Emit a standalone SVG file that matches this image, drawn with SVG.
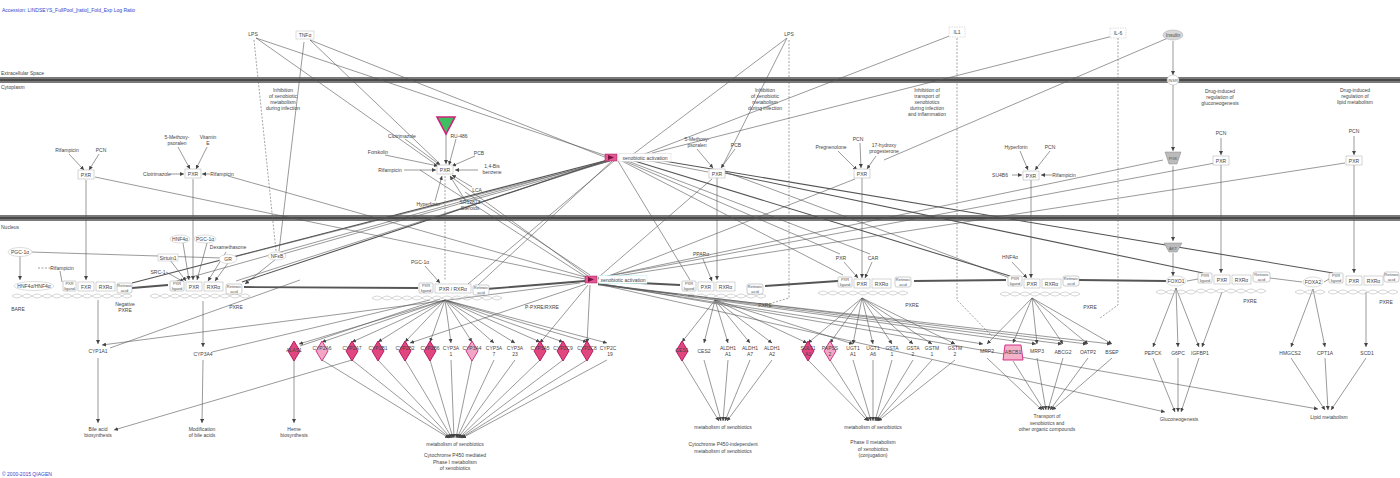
<svg xmlns="http://www.w3.org/2000/svg" width="1400" height="478" viewBox="0 0 1400 478">
<defs>
<marker id="a" viewBox="0 0 6 6" refX="6" refY="3" markerWidth="4" markerHeight="4" markerUnits="userSpaceOnUse" orient="auto"><path d="M0,0 L6,3 L0,6 Z" fill="#444"/></marker>
</defs>
<style>
.t{font-family:"Liberation Sans",Arial,sans-serif;font-size:5px;fill:#444;text-anchor:middle}
.s{font-family:"Liberation Sans",Arial,sans-serif;font-size:4px;fill:#555;text-anchor:middle}
.l{font-family:"Liberation Sans",Arial,sans-serif;font-size:5px;fill:#444}
.b{font-family:"Liberation Sans",Arial,sans-serif;font-size:5px;fill:#3344cc}
.e{stroke:#555;stroke-width:0.6;fill:none}
.ea{stroke:#555;stroke-width:0.6;fill:none;marker-end:url(#a)}
.ed{stroke:#666;stroke-width:0.6;fill:none;stroke-dasharray:2,1.5}
.th{stroke:#555;stroke-width:1.8;fill:none}
.tm{stroke:#555;stroke-width:1.1;fill:none}
.bx{fill:#fff;stroke:#aaa;stroke-width:0.5}
.lg{fill:#fff;stroke:#999;stroke-width:0.5}
.ov{fill:#fff;stroke:#bbb;stroke-width:0.5}
.dna{fill:none;stroke:#bbb;stroke-width:0.6}
.pk{fill:#e2467f;stroke:#b01060;stroke-width:0.9}
.pl{fill:#f2a6c6;stroke:#c8287a;stroke-width:0.9}
</style>
<rect width="1400" height="478" fill="#fff"/>
<text class="b" x="2" y="12">Accession: LINDSEYS_FullPool_[ratio]_Fold_Exp Log Ratio</text>
<text class="b" x="2" y="476">© 2000-2015 QIAGEN</text>
<g id="membranes">
<rect x="0" y="77" width="1400" height="6" fill="#7a7a7a"/>
<rect x="0" y="79" width="1400" height="2" fill="#4a4a4a"/>
<rect x="0" y="215" width="1400" height="6" fill="#7a7a7a"/>
<rect x="0" y="217" width="1400" height="2" fill="#4a4a4a"/>
<text class="l" x="1" y="75">Extracellular Space</text>
<text class="l" x="1" y="89">Cytoplasm</text>
<text class="l" x="1" y="229">Nucleus</text>
</g>
<g id="connectors">
<path class="e" d="M256,38 L607,156"/>
<path class="e" d="M310,40 L607,158"/>
<path class="e" d="M256,38 L438,166"/>
<path class="e" d="M310,40 L440,164"/>
<path class="ed" d="M254,40 L276,251"/>
<path class="e" d="M304,42 L279,251"/>
<path class="e" d="M787,38 L632,155"/>
<path class="e" d="M787,38 L722,167"/>
<path class="ed" d="M789,40 L789,298 L772,303"/>
<path class="e" d="M952,35 L642,155"/>
<path class="ed" d="M957,38 L957,300 L992,336"/>
<path class="e" d="M1113,36 L652,153"/>
<path class="ed" d="M1118,38 L1118,305 L1100,318"/>
<path class="e" d="M1168,38 L884,160"/>
<path class="ea" d="M1173,41 L1173,75"/>
<path class="ea" d="M1173,85 L1173,151"/>
<path class="ea" d="M1173,166 L1173,241"/>
<path class="ea" d="M1173,253 L1173,276"/>
<path class="ea" d="M69,154 L84,170"/><path class="ea" d="M99,154 L89,170"/>
<path class="ea" d="M178,147 L190,169"/><path class="ea" d="M207,147 L196,169"/>
<path class="ea" d="M170,174 L184,174"/><path class="ea" d="M210,174 L202,174"/>
<path class="ea" d="M446,134 L446,164"/><path class="ea" d="M405,139 L440,165"/><path class="ea" d="M456,139 L449,165"/>
<path class="ea" d="M385,155 L438,166"/><path class="ea" d="M475,156 L452,166"/>
<path class="ea" d="M404,170 L436,170"/><path class="ea" d="M478,170 L455,170"/>
<path class="ea" d="M472,187 L452,175"/>
<path class="ea" d="M435,201 L442,176"/><path class="ea" d="M465,200 L450,176"/>
<path class="ea" d="M697,149 L713,168"/><path class="ea" d="M735,149 L721,168"/>
<path class="ea" d="M860,143 L861,168"/><path class="ea" d="M838,151 L857,170"/><path class="ea" d="M876,156 L867,169"/>
<path class="ea" d="M1020,151 L1028,170"/><path class="ea" d="M1050,151 L1035,170"/>
<path class="ea" d="M1012,175 L1022,175"/><path class="ea" d="M1052,175 L1041,175"/>
<path class="ea" d="M1221,138 L1221,155"/>
<path class="ea" d="M1354,136 L1354,155"/>
<path class="ea" d="M86,180 L86,280"/>
<path class="ea" d="M193,179 L193,280"/>
<path class="ed" d="M445,176 L445,281"/>
<path class="ea" d="M717,178 L717,280"/>
<path class="ea" d="M862,178 L862,278"/>
<path class="ea" d="M1031,180 L1031,278"/>
<path class="ea" d="M1221,165 L1221,273"/>
<path class="ea" d="M1354,165 L1354,273"/>
<path class="e" d="M95,177 L585,279"/>
<path class="e" d="M228,176 L585,277"/>
<path class="e" d="M450,176 L588,276"/>
<path class="e" d="M465,192 L590,275"/>
<path class="e" d="M420,170 L586,277"/>
<path class="e" d="M712,179 L600,276"/>
<path class="e" d="M855,179 L606,277"/>
<path class="tm" d="M608,160 L132,283"/>
<path class="tm" d="M608,160 L242,282"/>
<path class="e" d="M608,161 L236,281"/>
<path class="e" d="M610,161 L283,254"/>
<path class="e" d="M610,161 L234,257"/>
<path class="e" d="M609,160 L170,283"/>
<path class="e" d="M612,161 L478,285"/>
<path class="e" d="M614,161 L468,284"/>
<path class="e" d="M618,161 L690,280"/>
<path class="e" d="M622,161 L843,275"/>
<path class="e" d="M622,160 L840,254"/>
<path class="e" d="M625,160 L870,254"/>
<path class="tm" d="M628,159 L1010,276"/>
<path class="tm" d="M720,172 L1203,273"/>
<path class="tm" d="M640,157 L1333,273"/>
<path class="e" d="M723,171 L1010,278"/>
<path class="e" d="M630,157 L708,172"/>
<path class="e" d="M598,278 L1215,163"/>
<path class="e" d="M598,279 L1345,163"/>
<path class="e" d="M598,278 L1163,160"/>
<path class="ea" d="M598,283 L1318,409"/>
<path class="ea" d="M598,284 L1165,412"/>
<path class="ea" d="M598,284 L983,344"/>
<path class="ea" d="M598,284 L1036,344"/>
<path class="ea" d="M598,284 L1062,344"/>
<path class="ea" d="M598,284 L1087,344"/>
<path class="ea" d="M598,285 L1111,344"/>
<path class="ea" d="M586,284 L410,343"/>
<path class="ea" d="M588,285 L540,343"/>
<path class="ea" d="M590,285 L587,343"/>
<path class="ea" d="M580,283 L102,345"/>
<path class="th" d="M132,288 L168,285"/>
<path class="th" d="M244,287 L418,288"/>
<path class="th" d="M486,289 L585,281"/>
<path class="th" d="M600,281 L680,285"/>
<path class="th" d="M765,286 L838,281"/>
<path class="th" d="M914,281 L1006,280"/>
<path class="th" d="M1078,280 L1166,281"/>
<path class="e" d="M1187,281 L1198,279"/>
<path class="e" d="M1270,278 L1302,282"/>
<path class="e" d="M1324,282 L1329,279"/>
<path class="e" d="M30,252 L222,258"/>
<path class="ea" d="M20,256 L20,280"/>
<path class="ed" d="M38,268 L52,268"/>
<path class="e" d="M60,271 L62,282"/>
<path class="ea" d="M183,243 L189,280"/>
<path class="ea" d="M207,243 L197,280"/>
<path class="ea" d="M226,252 L208,281"/>
<path class="ea" d="M170,260 L186,281"/>
<path class="ea" d="M166,272 L184,282"/>
<path class="ea" d="M228,263 L215,281"/>
<path class="ea" d="M276,259 L245,284"/>
<path class="ea" d="M425,266 L440,283"/>
<path class="ea" d="M703,259 L712,281"/>
<path class="ea" d="M844,262 L858,278"/>
<path class="ea" d="M872,262 L865,278"/>
<path class="ea" d="M1012,262 L1027,278"/>
<path class="ea" d="M98,300 L98,344"/>
<path class="ea" d="M98,358 L98,423"/>
<path class="ea" d="M203,301 L203,347"/>
<path class="ea" d="M203,360 L202,423"/>
<path class="ea" d="M294,360 L294,423"/>
<path class="e" d="M110,348 L300,280"/>
<path class="e" d="M212,352 L430,300"/>
<path class="e" d="M300,346 L440,299"/>
<path class="ea" d="M352,360 L114,430"/>
<path class="ea" d="M445,300 L322,342"/><path class="ea" d="M445,300 L352,342"/><path class="ea" d="M445,300 L378,342"/>
<path class="ea" d="M445,300 L405,342"/><path class="ea" d="M445,300 L430,342"/><path class="ea" d="M445,300 L451,343"/>
<path class="ea" d="M445,300 L472,342"/><path class="ea" d="M445,300 L494,343"/><path class="ea" d="M445,300 L515,343"/>
<path class="ea" d="M445,300 L540,342"/><path class="ea" d="M445,300 L563,342"/><path class="ea" d="M445,300 L587,342"/>
<path class="ea" d="M445,300 L607,343"/><path class="ea" d="M445,300 L299,344"/>
<path class="ea" d="M322,360 L449,438"/><path class="ea" d="M352,360 L450,438"/><path class="ea" d="M378,360 L451,438"/>
<path class="ea" d="M405,360 L452,438"/><path class="ea" d="M430,360 L453,438"/><path class="ea" d="M451,360 L454,438"/>
<path class="ea" d="M472,360 L456,438"/><path class="ea" d="M494,360 L457,438"/><path class="ea" d="M515,360 L458,438"/>
<path class="ea" d="M540,360 L459,438"/><path class="ea" d="M563,360 L460,438"/><path class="ea" d="M587,360 L461,438"/>
<path class="ea" d="M607,360 L462,438"/>
<path class="ea" d="M715,300 L682,342"/><path class="ea" d="M715,300 L704,343"/><path class="ea" d="M715,300 L728,343"/>
<path class="ea" d="M715,300 L750,343"/><path class="ea" d="M715,300 L772,343"/>
<path class="ea" d="M715,300 L807,343"/><path class="ea" d="M715,300 L853,344"/>
<path class="ea" d="M682,360 L719,421"/><path class="ea" d="M704,360 L721,421"/><path class="ea" d="M728,360 L723,421"/>
<path class="ea" d="M750,360 L725,421"/><path class="ea" d="M772,360 L727,421"/>
<path class="ea" d="M862,298 L808,343"/><path class="ea" d="M862,298 L830,343"/><path class="ea" d="M862,298 L853,344"/>
<path class="ea" d="M862,298 L873,344"/><path class="ea" d="M862,298 L892,344"/><path class="ea" d="M862,298 L913,344"/>
<path class="ea" d="M862,298 L932,344"/><path class="ea" d="M862,298 L955,344"/>
<path class="ea" d="M808,360 L868,421"/><path class="ea" d="M830,360 L869,421"/><path class="ea" d="M853,360 L871,421"/>
<path class="ea" d="M873,360 L873,421"/><path class="ea" d="M892,360 L875,421"/><path class="ea" d="M913,360 L876,421"/>
<path class="ea" d="M932,360 L877,421"/><path class="ea" d="M955,360 L878,421"/>
<path class="ea" d="M1032,298 L987,344"/><path class="ea" d="M1032,298 L1013,343"/><path class="ea" d="M1032,298 L1037,344"/>
<path class="ea" d="M1032,298 L1063,344"/><path class="ea" d="M1032,298 L1088,344"/><path class="ea" d="M1032,298 L1112,344"/>
<path class="ea" d="M987,358 L1042,410"/><path class="ea" d="M1013,361 L1044,410"/><path class="ea" d="M1037,358 L1046,410"/>
<path class="ea" d="M1063,358 L1048,410"/><path class="ea" d="M1088,358 L1050,410"/><path class="ea" d="M1112,358 L1052,410"/>
<path class="ea" d="M1176,288 L1153,347"/><path class="ea" d="M1176,288 L1178,347"/><path class="ea" d="M1176,288 L1199,347"/>
<path class="ea" d="M1222,292 L1202,347"/>
<path class="ea" d="M1153,358 L1175,412"/><path class="ea" d="M1178,358 L1178,412"/><path class="ea" d="M1199,358 L1181,412"/>
<path class="ea" d="M1313,289 L1291,347"/><path class="ea" d="M1313,289 L1325,347"/>
<path class="ea" d="M1366,292 L1366,347"/>
<path class="ea" d="M1291,358 L1325,410"/><path class="ea" d="M1325,358 L1328,410"/><path class="ea" d="M1366,358 L1331,410"/>
</g>
<g id="LPS1"><text class="t" x="253" y="36">LPS</text></g>
<g id="TNF"><rect class="ov" x="296" y="31" width="18" height="8"/><text class="t" x="305" y="37">TNFα</text></g>
<g id="LPS2"><text class="t" x="789" y="36">LPS</text></g>
<g id="IL1"><rect x="949" y="27" width="16" height="10" fill="#fff" stroke="#bbb" stroke-width="0.5" stroke-dasharray="1.5,1"/><text class="t" x="957" y="34">IL1</text></g>
<g id="IL6"><rect x="1110" y="28" width="16" height="10" fill="#fff" stroke="#bbb" stroke-width="0.5" stroke-dasharray="1.5,1"/><text class="t" x="1118" y="35">IL-6</text></g>
<g id="INS"><ellipse cx="1173" cy="35" rx="10" ry="5" fill="#d8d8d8" stroke="#aaa" stroke-width="0.5"/><text class="t" x="1173" y="37">Insulin</text></g>
<g id="INSR"><ellipse cx="1173" cy="80" rx="6" ry="5" fill="#fff" stroke="#aaa" stroke-width="0.5"/><text class="s" x="1173" y="81.5">INSR</text></g>
<g id="F1"><text class="t" x="283" y="92">Inhibition</text><text class="t" x="283" y="98">of xenobiotic</text><text class="t" x="283" y="104">metabolism</text><text class="t" x="283" y="110">during infection</text></g>
<g id="F2"><text class="t" x="765" y="92">Inhibition</text><text class="t" x="765" y="98">of xenobiotic</text><text class="t" x="765" y="104">metabolism</text><text class="t" x="765" y="110">during infection</text></g>
<g id="F3"><text class="t" x="927" y="92">Inhibition of</text><text class="t" x="927" y="98">transport of</text><text class="t" x="927" y="104">xenobiotics</text><text class="t" x="927" y="110">during infection</text><text class="t" x="927" y="116">and inflammation</text></g>
<g id="F4"><text class="t" x="1220" y="93">Drug-induced</text><text class="t" x="1220" y="99">regulation of</text><text class="t" x="1220" y="105">gluconeogenesis</text></g>
<g id="F5"><text class="t" x="1355" y="92">Drug-induced</text><text class="t" x="1355" y="98">regulation of</text><text class="t" x="1355" y="104">lipid metabolism</text></g>
<g id="P1"><text class="t" x="67" y="152">Rifampicin</text><text class="t" x="101" y="152">PCN</text><rect class="bx" x="78" y="170" width="16" height="9"/><text class="t" x="86" y="176.5">PXR</text></g>
<g id="P2"><text class="t" x="177" y="139">5-Methoxy-</text><text class="t" x="177" y="145">psoralen</text><text class="t" x="208" y="139">Vitamin</text><text class="t" x="208" y="145">E</text><text class="t" x="157" y="176">Clotrimazole</text><rect class="bx" x="185" y="169" width="16" height="9"/><text class="t" x="193" y="175.5">PXR</text><text class="t" x="222" y="176">Rifampicin</text></g>
<g id="P3"><polygon points="437,117 455,117 446,134" fill="#3fc060" stroke="#d0207e" stroke-width="1.6"/><text class="t" x="402" y="138">Clotrimazole</text><text class="t" x="459" y="138">RU-486</text><text class="t" x="378" y="154">Forskolin</text><text class="t" x="479" y="155">PCB</text><text class="t" x="390" y="172">Rifampicin</text><rect class="bx" x="437" y="165" width="16" height="9"/><text class="t" x="445" y="171.5">PXR</text><text class="t" x="492" y="168">1,4-Bis</text><text class="t" x="492" y="174">benzene</text><text class="t" x="477" y="192">LCA</text><text class="t" x="428" y="206">Hyperforin</text><text class="t" x="470" y="204">SR12813</text><text class="t" x="470" y="210">Steroids</text></g>
<g id="P4"><text class="t" x="697" y="141">5-Methoxy-</text><text class="t" x="697" y="147">psoralen</text><text class="t" x="736" y="147">PCB</text><rect class="bx" x="709" y="169" width="16" height="9"/><text class="t" x="717" y="175.5">PXR</text></g>
<g id="P5"><text class="t" x="858" y="141">PCN</text><text class="t" x="831" y="149">Pregnenolone</text><text class="t" x="884" y="147">17-hydroxy</text><text class="t" x="884" y="153">progesterone</text><rect class="bx" x="854" y="169" width="16" height="9"/><text class="t" x="862" y="175.5">PXR</text></g>
<g id="P6"><text class="t" x="1016" y="149">Hyperforin</text><text class="t" x="1050" y="149">PCN</text><text class="t" x="1000" y="177">SU4B6</text><rect class="bx" x="1023" y="171" width="16" height="9"/><text class="t" x="1031" y="177.5">PXR</text><text class="t" x="1064" y="177">Rifampicin</text></g>
<g id="PI3K"><polygon points="1165,152 1181,152 1177,164 1169,164" fill="#bbb" stroke="#888" stroke-width="0.5"/><text class="s" x="1173" y="159.5">PI3K</text></g>
<g id="P7"><text class="t" x="1221" y="135">PCN</text><rect class="bx" x="1213" y="156" width="16" height="9"/><text class="t" x="1221" y="162.5">PXR</text></g>
<g id="P8"><text class="t" x="1354" y="133">PCN</text><rect class="bx" x="1346" y="156" width="16" height="9"/><text class="t" x="1354" y="162.5">PXR</text></g>
<g id="CA"><rect x="605" y="154" width="12" height="7" fill="#e0588f" stroke="#b01060" stroke-width="0.5"/><polygon points="608,155 614,157.5 608,160" fill="#7a1040"/><rect x="619" y="153.5" width="52" height="8" fill="#fff" stroke="#ccc" stroke-width="0.4"/><text class="t" x="645" y="159.5">xenobiotic activation</text></g>
<g id="CB"><rect x="585" y="276" width="12" height="7" fill="#e0588f" stroke="#b01060" stroke-width="0.5"/><polygon points="588,277 594,279.5 588,282" fill="#7a1040"/><rect x="599" y="275.5" width="48" height="8" fill="#fff" stroke="#aee" stroke-width="0.4"/><text class="t" x="623" y="281.5">xenobiotic activation</text></g>
<g id="N1">
<ellipse class="ov" cx="20" cy="252" rx="12" ry="4.5"/><text class="t" x="20" y="254">PGC-1α</text>
<text class="t" x="62" y="270">Rifampicin</text>
<path class="dna" d="M12,296 q5,-4 10,0 t10,0 t10,0 t10,0 t10,0 t10,0 t10,0 t10,0 t10,0 t10,0 t10,0 t10,0"/>
<path class="dna" d="M12,296 q5,4 10,0 t10,0 t10,0 t10,0 t10,0 t10,0 t10,0 t10,0 t10,0 t10,0 t10,0 t10,0"/>
<ellipse class="ov" cx="34" cy="286" rx="20" ry="4.5"/><text class="t" x="34" y="288">HNF4α/HNF4α</text>
<rect class="lg" x="63" y="281" width="13" height="10" rx="1"/><text class="s" x="69.5" y="285">PXR</text><text class="s" x="69.5" y="289.5">ligand</text>
<rect class="bx" x="78" y="282" width="16" height="9"/><text class="t" x="86" y="288.5">FXR</text>
<rect class="bx" x="96" y="282" width="19" height="9"/><text class="t" x="105.5" y="288.5">RXRα</text>
<rect class="lg" x="117" y="283" width="15" height="10" rx="2"/><text class="s" x="124.5" y="287">Retinoic</text><text class="s" x="124.5" y="291.5">acid</text>
<text class="t" x="18" y="311">BARE</text>
<text class="t" x="125" y="306">Negative</text><text class="t" x="125" y="312">PXRE</text>
</g>
<g id="N2">
<ellipse class="ov" cx="180" cy="239" rx="10" ry="4"/><text class="t" x="180" y="241">HNF4α</text>
<ellipse class="ov" cx="205" cy="239" rx="11" ry="4"/><text class="t" x="205" y="241">PGC-1α</text>
<text class="t" x="228" y="249">Dexamethasone</text>
<rect class="ov" x="158" y="254" width="20" height="7"/><text class="t" x="168" y="259.5">Sirtuin1</text>
<text class="t" x="158" y="274">SRC-1</text>
<ellipse class="ov" cx="228" cy="259" rx="9" ry="4.5"/><text class="t" x="228" y="261">GR</text>
<ellipse class="ov" cx="277" cy="256" rx="9" ry="4"/><text class="t" x="277" y="258">NFκB</text>
<path class="dna" d="M150,296 q5,-4 10,0 t10,0 t10,0 t10,0 t10,0 t10,0 t10,0 t10,0 t10,0 t10,0"/>
<path class="dna" d="M150,296 q5,4 10,0 t10,0 t10,0 t10,0 t10,0 t10,0 t10,0 t10,0 t10,0 t10,0"/>
<rect class="lg" x="170" y="281" width="14" height="10" rx="1"/><text class="s" x="177" y="285">PXR</text><text class="s" x="177" y="289.5">ligand</text>
<rect class="bx" x="186" y="282" width="16" height="9"/><text class="t" x="194" y="288.5">PXR</text>
<rect class="bx" x="204" y="282" width="19" height="9"/><text class="t" x="213.5" y="288.5">RXRα</text>
<rect class="lg" x="226" y="284" width="16" height="10" rx="2"/><text class="s" x="234" y="288">Retinoic</text><text class="s" x="234" y="292.5">acid</text>
<text class="t" x="236" y="309">PXRE</text>
</g>
<g id="N3">
<text class="t" x="420" y="264">PGC-1α</text>
<path class="dna" d="M372,298 q5,-4 10,0 t10,0 t10,0 t10,0 t10,0 t10,0 t10,0 t10,0 t10,0 t10,0 t10,0 t10,0 t10,0"/>
<path class="dna" d="M372,298 q5,4 10,0 t10,0 t10,0 t10,0 t10,0 t10,0 t10,0 t10,0 t10,0 t10,0 t10,0 t10,0 t10,0"/>
<rect class="lg" x="419" y="283" width="14" height="10" rx="1"/><text class="s" x="426" y="287">PXR</text><text class="s" x="426" y="291.5">ligand</text>
<rect class="bx" x="435" y="284" width="36" height="9"/><text class="t" x="453" y="290.5">PXR / RXRα</text>
<rect class="lg" x="473" y="285" width="16" height="10" rx="2"/><text class="s" x="481" y="289">Retinoic</text><text class="s" x="481" y="293.5">acid</text>
<text class="t" x="542" y="309">P-PXRE/RXRE</text>
</g>
<g id="N4">
<text class="t" x="701" y="256">PPARα</text>
<path class="dna" d="M676,296 q5,-4 10,0 t10,0 t10,0 t10,0 t10,0 t10,0 t10,0 t10,0 t10,0"/>
<path class="dna" d="M676,296 q5,4 10,0 t10,0 t10,0 t10,0 t10,0 t10,0 t10,0 t10,0 t10,0"/>
<rect class="lg" x="682" y="281" width="14" height="10" rx="1"/><text class="s" x="689" y="285">PXR</text><text class="s" x="689" y="289.5">ligand</text>
<rect class="bx" x="698" y="282" width="16" height="9"/><text class="t" x="706" y="288.5">PXR</text>
<rect class="bx" x="716" y="282" width="19" height="9"/><text class="t" x="725.5" y="288.5">RXRα</text>
<rect class="lg" x="747" y="284" width="16" height="10" rx="2"/><text class="s" x="755" y="288">Retinoic</text><text class="s" x="755" y="292.5">acid</text>
<text class="t" x="765" y="307">PXRE</text>
</g>
<g id="N5">
<text class="t" x="841" y="260">PXR</text><text class="t" x="873" y="260">CAR</text>
<path class="dna" d="M818,293 q5,-4 10,0 t10,0 t10,0 t10,0 t10,0 t10,0 t10,0 t10,0 t10,0"/>
<path class="dna" d="M818,293 q5,4 10,0 t10,0 t10,0 t10,0 t10,0 t10,0 t10,0 t10,0 t10,0"/>
<rect class="lg" x="838" y="277" width="14" height="10" rx="1"/><text class="s" x="845" y="281">PXR</text><text class="s" x="845" y="285.5">ligand</text>
<rect class="bx" x="854" y="279" width="16" height="9"/><text class="t" x="862" y="285.5">PXR</text>
<rect class="bx" x="872" y="279" width="19" height="9"/><text class="t" x="881.5" y="285.5">RXRα</text>
<rect class="lg" x="895" y="277" width="16" height="10" rx="2"/><text class="s" x="903" y="281">Retinoic</text><text class="s" x="903" y="285.5">acid</text>
<text class="t" x="912" y="307">PXRE</text>
</g>
<g id="N6">
<text class="t" x="1010" y="259">HNF4α</text>
<path class="dna" d="M1000,294 q5,-4 10,0 t10,0 t10,0 t10,0 t10,0 t10,0 t10,0 t10,0"/>
<path class="dna" d="M1000,294 q5,4 10,0 t10,0 t10,0 t10,0 t10,0 t10,0 t10,0 t10,0"/>
<rect class="lg" x="1008" y="276" width="14" height="10" rx="1"/><text class="s" x="1015" y="280">PXR</text><text class="s" x="1015" y="284.5">ligand</text>
<rect class="bx" x="1024" y="279" width="16" height="9"/><text class="t" x="1032" y="285.5">PXR</text>
<rect class="bx" x="1042" y="279" width="19" height="9"/><text class="t" x="1051.5" y="285.5">RXRα</text>
<rect class="lg" x="1063" y="276" width="16" height="10" rx="2"/><text class="s" x="1071" y="280">Retinoic</text><text class="s" x="1071" y="284.5">acid</text>
<text class="t" x="1090" y="309">PXRE</text>
</g>
<g id="AKT"><polygon points="1164,243 1182,243 1177,252 1169,252" fill="#bbb" stroke="#888" stroke-width="0.5"/><text class="s" x="1173" y="249.5">AKT</text></g>
<g id="FOXO1"><path class="dna" d="M1156,292 q5,-4 10,0 t10,0 t10,0 t10,0"/><path class="dna" d="M1156,292 q5,4 10,0 t10,0 t10,0 t10,0"/><ellipse class="ov" cx="1176" cy="281" rx="10" ry="5"/><text class="t" x="1176" y="283">FOXO1</text></g>
<g id="N7">
<path class="dna" d="M1196,291 q5,-4 10,0 t10,0 t10,0 t10,0 t10,0 t10,0 t10,0"/>
<path class="dna" d="M1196,291 q5,4 10,0 t10,0 t10,0 t10,0 t10,0 t10,0 t10,0"/>
<rect class="lg" x="1198" y="273" width="14" height="10" rx="1"/><text class="s" x="1205" y="277">PXR</text><text class="s" x="1205" y="281.5">ligand</text>
<rect class="bx" x="1214" y="275" width="16" height="9"/><text class="t" x="1222" y="281.5">PXR</text>
<rect class="bx" x="1232" y="275" width="19" height="9"/><text class="t" x="1241.5" y="281.5">RXRα</text>
<rect class="lg" x="1253" y="272" width="17" height="10" rx="2"/><text class="s" x="1261.5" y="276">Retinoic</text><text class="s" x="1261.5" y="280.5">acid</text>
<text class="t" x="1250" y="303">PXRE</text>
</g>
<g id="FOXA2"><path class="dna" d="M1295,292 q5,-4 10,0 t10,0 t10,0"/><path class="dna" d="M1295,292 q5,4 10,0 t10,0 t10,0"/><ellipse class="ov" cx="1313" cy="282" rx="10" ry="5" fill="#e6e6e6"/><text class="t" x="1313" y="284">FOXA2</text></g>
<g id="N8">
<path class="dna" d="M1328,292 q5,-4 10,0 t10,0 t10,0 t10,0 t10,0 t10,0 t10,0"/>
<path class="dna" d="M1328,292 q5,4 10,0 t10,0 t10,0 t10,0 t10,0 t10,0 t10,0"/>
<rect class="lg" x="1329" y="273" width="14" height="10" rx="1"/><text class="s" x="1336" y="277">PXR</text><text class="s" x="1336" y="281.5">ligand</text>
<rect class="bx" x="1346" y="276" width="16" height="9"/><text class="t" x="1354" y="282.5">PXR</text>
<rect class="bx" x="1364" y="276" width="19" height="9"/><text class="t" x="1373.5" y="282.5">RXRα</text>
<rect class="lg" x="1384" y="272" width="15" height="10" rx="2"/><text class="s" x="1391.5" y="276">Retinoic</text><text class="s" x="1391.5" y="280.5">acid</text>
<text class="t" x="1386" y="304">PXRE</text>
</g>
<g id="CYP1A1"><text class="t" x="98" y="353">CYP1A1</text></g>
<g id="CYP3A4"><text class="t" x="203" y="356">CYP3A4</text></g>
<g id="ALAS1"><path class="pk" d="M294,341 L300,351 L294,361 L288,351Z"/><text class="t" x="294" y="352">ALAS1</text></g>
<g id="CYP2A6"><path class="pl" d="M322,341 L328,351 L322,361 L316,351Z"/><text class="t" x="322" y="350">CYP2A6</text></g>
<g id="CYP2A7"><path class="pk" d="M352,341 L358,351 L352,361 L346,351Z"/><text class="t" x="352" y="350">CYP2A7</text></g>
<g id="CYP2B1"><path class="pk" d="M378,341 L384,351 L378,361 L372,351Z"/><text class="t" x="378" y="350">CYP2B1</text></g>
<g id="CYP2B2"><path class="pk" d="M405,341 L411,351 L405,361 L399,351Z"/><text class="t" x="405" y="350">CYP2B2</text></g>
<g id="CYP2B6"><path class="pk" d="M430,341 L436,351 L430,361 L424,351Z"/><text class="t" x="430" y="350">CYP2B6</text></g>
<g id="CYP3A1"><text class="t" x="451" y="350">CYP3A</text><text class="t" x="451" y="356">1</text></g>
<g id="CYP3A4b"><path class="pl" d="M472,341 L478,351 L472,361 L466,351Z"/><text class="t" x="472" y="350">CYP3A4</text></g>
<g id="CYP3A7"><text class="t" x="494" y="350">CYP3A</text><text class="t" x="494" y="356">7</text></g>
<g id="CYP3A23"><text class="t" x="515" y="350">CYP3A</text><text class="t" x="515" y="356">23</text></g>
<g id="CYP3A5"><path class="pk" d="M540,341 L546,351 L540,361 L534,351Z"/><text class="t" x="540" y="350">CYP3A5</text></g>
<g id="CYP2C9"><path class="pk" d="M563,341 L569,351 L563,361 L557,351Z"/><text class="t" x="563" y="350">CYP2C9</text></g>
<g id="CYP2C8"><path class="pk" d="M587,341 L593,351 L587,361 L581,351Z"/><text class="t" x="587" y="350">CYP2C8</text></g>
<g id="CYP2C19"><text class="t" x="608" y="350">CYP2C</text><text class="t" x="610" y="356">19</text></g>
<g id="CES1"><path class="pk" d="M682,341 L688,351 L682,361 L676,351Z"/><text class="t" x="682" y="352">CES1</text></g>
<g id="CES2"><text class="t" x="704" y="353">CES2</text></g>
<g id="ALDH1A1"><text class="t" x="728" y="350">ALDH1</text><text class="t" x="728" y="356">A1</text></g>
<g id="ALDH1A7"><text class="t" x="750" y="350">ALDH1</text><text class="t" x="750" y="356">A7</text></g>
<g id="ALDH1A2"><text class="t" x="772" y="350">ALDH1</text><text class="t" x="772" y="356">A2</text></g>
<g id="SULT1A1"><path class="pk" d="M808,341 L814,351 L808,361 L802,351Z"/><text class="t" x="808" y="350">SULT1</text><text class="t" x="808" y="356">A1</text></g>
<g id="PAPSS2"><path class="pl" d="M830,341 L836,351 L830,361 L824,351Z"/><text class="t" x="830" y="350">PAPSS</text><text class="t" x="830" y="356">2</text></g>
<g id="UGT1A1"><text class="t" x="853" y="350">UGT1</text><text class="t" x="853" y="356">A1</text></g>
<g id="UGT1A6"><text class="t" x="873" y="350">UGT1</text><text class="t" x="873" y="356">A6</text></g>
<g id="GSTA1"><text class="t" x="892" y="350">GSTA</text><text class="t" x="892" y="356">1</text></g>
<g id="GSTA2"><text class="t" x="913" y="350">GSTA</text><text class="t" x="913" y="356">2</text></g>
<g id="GSTM1"><text class="t" x="932" y="350">GSTM</text><text class="t" x="932" y="356">1</text></g>
<g id="GSTM2"><text class="t" x="955" y="350">GSTM</text><text class="t" x="955" y="356">2</text></g>
<g id="MRP2"><text class="t" x="987" y="353">MRP2</text></g>
<g id="ABCB1"><path d="M1005,345 L1021,345 L1023,360 L1003,360Z" fill="#f4b2c8" stroke="#cc2080" stroke-width="0.9"/><text class="t" x="1013" y="354">ABCB1</text></g>
<g id="MRP3"><text class="t" x="1037" y="353">MRP3</text></g>
<g id="ABCG2"><text class="t" x="1063" y="354">ABCG2</text></g>
<g id="OATP2"><text class="t" x="1088" y="354">OATP2</text></g>
<g id="BSEP"><text class="t" x="1112" y="354">BSEP</text></g>
<g id="PEPCK"><text class="t" x="1153" y="355">PEPCK</text></g>
<g id="G6PC"><text class="t" x="1178" y="355">G6PC</text></g>
<g id="IGFBP1"><text class="t" x="1200" y="355">IGFBP1</text></g>
<g id="HMGCS2"><text class="t" x="1290" y="355">HMGCS2</text></g>
<g id="CPT1A"><text class="t" x="1325" y="355">CPT1A</text></g>
<g id="SCD1"><text class="t" x="1367" y="355">SCD1</text></g>
<g id="Bile"><text class="t" x="98" y="431">Bile acid</text><text class="t" x="98" y="437">biosynthesis</text></g>
<g id="ModBile"><text class="t" x="202" y="431">Modification</text><text class="t" x="202" y="437">of bile acids</text></g>
<g id="Heme"><text class="t" x="294" y="431">Heme</text><text class="t" x="294" y="437">biosynthesis</text></g>
<g id="Met1"><text class="t" x="455" y="446">metabolism of xenobiotics</text><text class="t" x="455" y="457">Cytochrome P450 mediated</text><text class="t" x="455" y="463.5">Phase I metabolism</text><text class="t" x="455" y="470">of xenobiotics</text></g>
<g id="Met2"><text class="t" x="723" y="429">metabolism of xenobiotics</text><text class="t" x="723" y="446">Cytochrome P450-independent</text><text class="t" x="723" y="452.5">metabolism of xenobiotics</text></g>
<g id="Met3"><text class="t" x="873" y="429">metabolism of xenobiotics</text><text class="t" x="873" y="444">Phase II metabolism</text><text class="t" x="873" y="450.5">of xenobiotics</text><text class="t" x="873" y="457">(conjugation)</text></g>
<g id="Transport"><text class="t" x="1047" y="418">Transport of</text><text class="t" x="1047" y="424.5">xenobiotics and</text><text class="t" x="1047" y="431">other organic compounds</text></g>
<g id="Gluco"><text class="t" x="1179" y="421">Gluconeogenesis</text></g>
<g id="Lipid"><text class="t" x="1329" y="419">Lipid metabolism</text></g>
</svg>
